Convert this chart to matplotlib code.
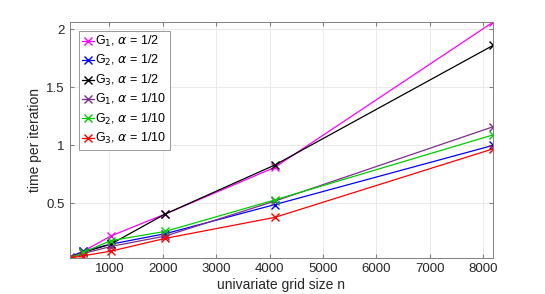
import matplotlib
matplotlib.use("Agg")
import matplotlib.pyplot as plt

# grid sizes
n = [256, 512, 1024, 2048, 4096, 8192]

# time per iteration for each method / alpha
g1_half = [0.03, 0.09, 0.22, 0.41, 0.81, 2.06]
g2_half = [0.04, 0.09, 0.15, 0.24, 0.49, 1.00]
g3_half = [0.03, 0.08, 0.15, 0.41, 0.83, 1.86]
g1_tenth = [0.03, 0.07, 0.13, 0.22, 0.52, 1.16]
g2_tenth = [0.03, 0.08, 0.18, 0.26, 0.53, 1.09]
g3_tenth = [0.03, 0.05, 0.09, 0.20, 0.38, 0.97]

series = [g1_half, g2_half, g3_half, g1_tenth, g2_tenth, g3_tenth]
labels = [r"G$_1$, $\alpha$ = 1/2", r"G$_2$, $\alpha$ = 1/2", r"G$_3$, $\alpha$ = 1/2",
          r"G$_1$, $\alpha$ = 1/10", r"G$_2$, $\alpha$ = 1/10", r"G$_3$, $\alpha$ = 1/10"]
colors = ["#ff00ff", "#0000ff", "#000000", "#7e2f8e", "#00cc00", "#ff0000"]

plt.rcParams['font.family'] = ['Liberation Sans', 'DejaVu Sans']
plt.rcParams['mathtext.fontset'] = 'dejavusans'

fig = plt.figure(figsize=(5.45, 2.94), dpi=100)
ax = fig.add_axes([0.128, 0.122, 0.777, 0.803])

for y, lab, c in zip(series, labels, colors):
    ax.plot(n, y, color=c, marker='x', markersize=6, linewidth=0.9, label=lab)

ax.set_xlim(256, 8192)
ax.set_ylim(0.03, 2.06)
ax.set_xticks([1000, 2000, 3000, 4000, 5000, 6000, 7000, 8000])
ax.set_yticks([0.5, 1, 1.5, 2])
ax.set_yticklabels(["0.5", "1", "1.5", "2"])
ax.grid(True, color="#e6e6e6", linewidth=0.6)
ax.set_axisbelow(True)
ax.tick_params(direction='in', top=True, right=True, labelsize=9.5, colors="#262626",
               color="#808080", length=3)
for s in ax.spines.values():
    s.set_color("#808080")
    s.set_linewidth(0.7)

ax.set_xlabel("univariate grid size n", fontsize=10, color="#262626", labelpad=2)
ax.set_ylabel("time per iteration", fontsize=10, color="#262626", labelpad=3)

leg = ax.legend(loc='upper left', fontsize=9, handlelength=1.0, handletextpad=0.1,
                borderpad=0.25, labelspacing=0.35, fancybox=False, framealpha=1,
                edgecolor="#999999", borderaxespad=0.7)
leg.get_frame().set_linewidth(0.7)

fig.savefig("out.png", dpi=100)
